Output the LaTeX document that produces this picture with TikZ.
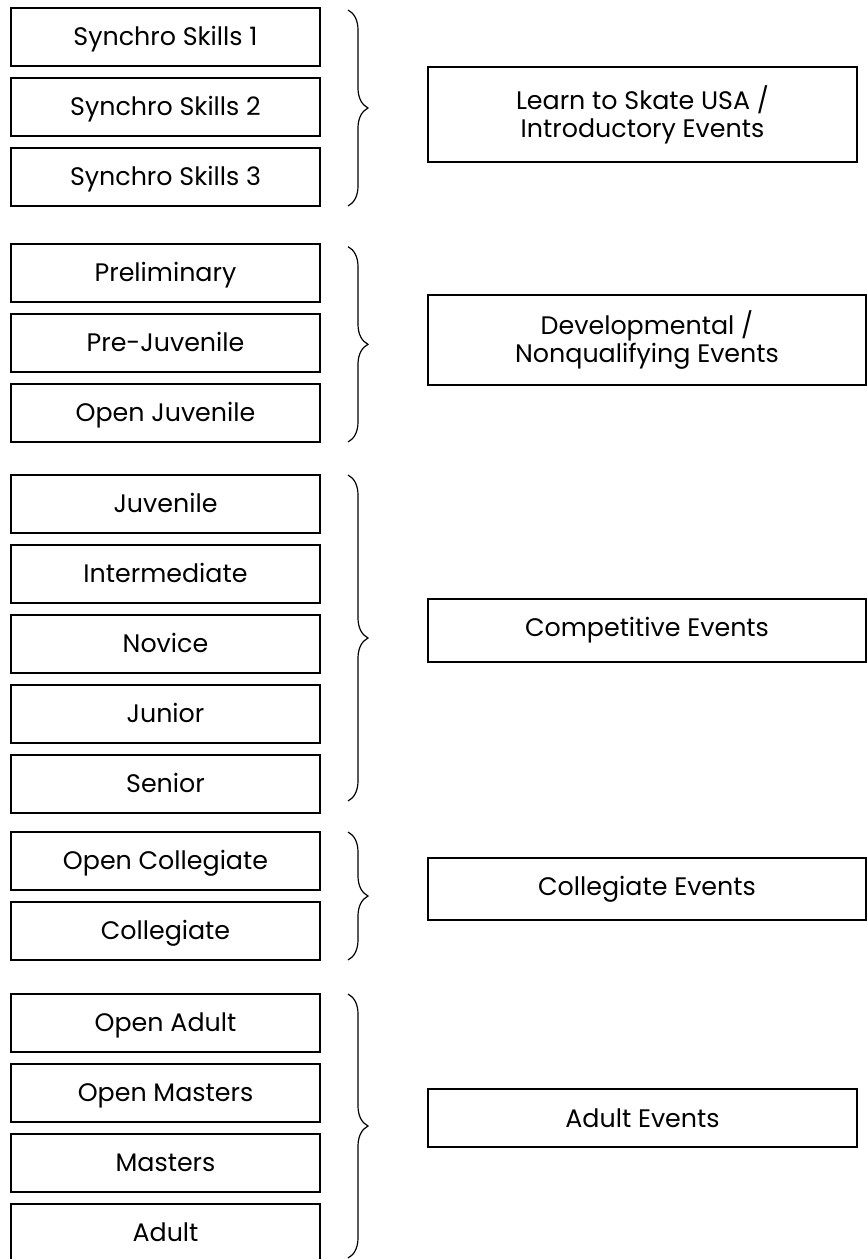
\documentclass[tikz,border=0pt]{standalone}
\usepackage{fontspec}
\setmainfont{Poppins}
\usetikzlibrary{positioning, decorations.pathreplacing}

\begin{document}
\begin{tikzpicture}[
		x=0.75pt, y=-0.75pt,
		level/.style={rectangle, draw=black, line width=0.8pt, minimum width=231.75pt, minimum height=43.5pt, inner sep=0pt, outer sep=0pt, text height=13.2pt, text depth=0pt, font=\fontsize{19}{21}\selectfont},
		group/.style={rectangle, draw=black, line width=1pt, align=center, inner sep=0pt, outer sep=0pt, font=\fontsize{19}{21}\selectfont},
		curly/.style={decorate, decoration={brace, amplitude=15pt}, line width=0.9pt}
		]
		\useasboundingbox (0,0) rectangle (867,1259);
		
		% Introductory levels
		\node[level] (ss1) at (165.5,37) {Synchro Skills 1};
		\node[level, below=9pt of ss1] (ss2) {Synchro Skills 2};
		\node[level, below=9pt of ss2] (ss3) {Synchro Skills 3};
		
		% Developmental levels
		\node[level] (prelim) at (165.5,273) {Preliminary};
		\node[level, below=9pt of prelim] (prejuv) {Pre-Juvenile};
		\node[level, below=9pt of prejuv] (openjuv) {Open Juvenile};
		
		% Competitive levels
		\node[level] (juv) at (165.5,504) {Juvenile};
		\node[level, below=9pt of juv] (inter) {Intermediate};
		\node[level, below=9pt of inter] (novice) {Novice};
		\node[level, below=9pt of novice] (junior) {Junior};
		\node[level, below=9pt of junior] (senior) {Senior};
		
		% Collegiate levels
		\node[level] (opencoll) at (165.5,861) {Open Collegiate};
		\node[level, below=9pt of opencoll] (coll) {Collegiate};
		
		% Adult levels
		\node[level] (openadult) at (165.5,1023) {Open Adult};
		\node[level, below=9pt of openadult] (openmasters) {Open Masters};
		\node[level, below=9pt of openmasters] (masters) {Masters};
		\node[level, below=9pt of masters] (adult) {Adult};
		
		% Event categories
		\node[group, minimum width=321.75pt, minimum height=71.25pt] (lts) at (642.5,114.5) {Learn to Skate USA /\\ Introductory Events};
		\node[group, minimum width=328.5pt, minimum height=67.5pt] (devel) at (647,340) {Developmental /\\ Nonqualifying Events};
		\node[group, minimum width=328.5pt, minimum height=47.25pt] (comp) at (647,630.5) {Competitive Events};
		\node[group, minimum width=328.5pt, minimum height=46.5pt] (colleg) at (647,889) {Collegiate Events};
		\node[group, minimum width=321.75pt, minimum height=43.5pt] (adultev) at (642.5,1118) {Adult Events};
		
		% Braces
		\draw[curly] ([xshift=21pt, yshift=-1.5pt]ss1.north east) -- ([xshift=21pt]ss3.south east);
		\draw[curly] ([xshift=21pt, yshift=-2pt]prelim.north east) -- ([xshift=21pt]openjuv.south east);
		\draw[curly] ([xshift=21pt]juv.north east) -- ([xshift=21pt, yshift=9pt]senior.south east);
		\draw[curly] ([xshift=21pt]opencoll.north east) -- ([xshift=21pt]coll.south east);
		\draw[curly] ([xshift=21pt]openadult.north east) -- ([xshift=21pt, yshift=3pt]adult.south east);
		
	\end{tikzpicture}
\end{document}
